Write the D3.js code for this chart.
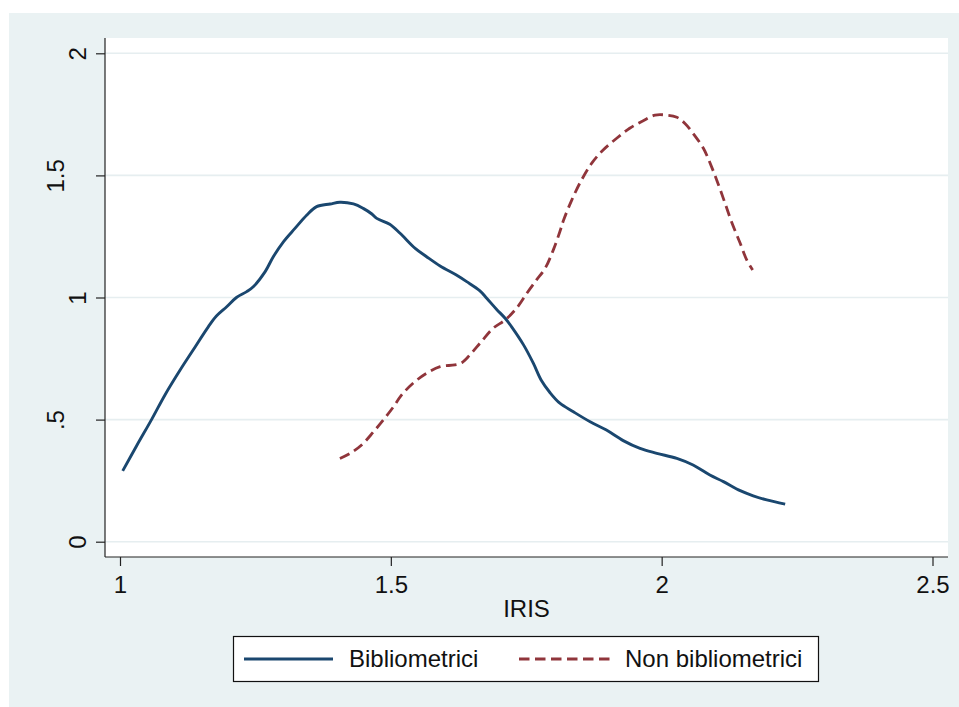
<!DOCTYPE html>
<html>
<head>
<meta charset="utf-8">
<script src="https://cdn.jsdelivr.net/npm/d3@7/dist/d3.min.js"></script>
<style>
  html, body { margin: 0; padding: 0; background: #ffffff; }
  svg { display: block; font-family: "Liberation Sans", Arial, sans-serif; }
</style>
</head>
<body>
<svg id="chart" width="959" height="707"></svg>
<script>
// Kernel density estimates of IRIS, by group
const seriesNames = ["Bibliometrici", "Non bibliometrici"];

const biblioX = [1.005, 1.031, 1.059, 1.083, 1.111, 1.135, 1.163, 1.178, 1.197, 1.215,
  1.234, 1.246, 1.268, 1.283, 1.302, 1.323, 1.345, 1.363, 1.388, 1.406,
  1.431, 1.449, 1.465, 1.474, 1.498, 1.517, 1.545, 1.566, 1.591, 1.621,
  1.640, 1.664, 1.677, 1.695, 1.711, 1.723, 1.745, 1.763, 1.778, 1.794,
  1.812, 1.837, 1.868, 1.898, 1.929, 1.960, 1.991, 2.028, 2.058, 2.089,
  2.114, 2.145, 2.169, 2.194, 2.228];
const biblioY = [0.290, 0.394, 0.503, 0.601, 0.703, 0.785, 0.880, 0.924, 0.962, 1.000,
  1.024, 1.044, 1.106, 1.167, 1.229, 1.283, 1.338, 1.372, 1.383, 1.390,
  1.383, 1.365, 1.342, 1.324, 1.300, 1.263, 1.201, 1.167, 1.129, 1.092,
  1.065, 1.028, 0.997, 0.952, 0.915, 0.880, 0.806, 0.731, 0.660, 0.610,
  0.567, 0.532, 0.491, 0.457, 0.414, 0.382, 0.362, 0.341, 0.314, 0.273,
  0.246, 0.209, 0.188, 0.171, 0.154];

const nonBiblioX = [1.406, 1.425, 1.446, 1.468, 1.486, 1.505, 1.520, 1.541, 1.566, 1.591,
  1.618, 1.631, 1.646, 1.667, 1.689, 1.711, 1.732, 1.751, 1.769, 1.785,
  1.800, 1.812, 1.819, 1.834, 1.852, 1.871, 1.892, 1.917, 1.941, 1.966,
  1.988, 2.009, 2.028, 2.043, 2.058, 2.077, 2.092, 2.105, 2.117, 2.130,
  2.145, 2.157, 2.168];
const nonBiblioY = [0.341, 0.362, 0.396, 0.450, 0.498, 0.553, 0.601, 0.649, 0.690, 0.717,
  0.724, 0.733, 0.765, 0.819, 0.874, 0.908, 0.956, 1.017, 1.072, 1.120,
  1.195, 1.269, 1.317, 1.399, 1.481, 1.550, 1.604, 1.652, 1.693, 1.724,
  1.747, 1.747, 1.738, 1.713, 1.672, 1.611, 1.536, 1.461, 1.386, 1.304,
  1.222, 1.154, 1.113];

const xTicks = [1, 1.5, 2, 2.5];
const xTickLabels = ["1", "1.5", "2", "2.5"];
const yTicks = [0, 0.5, 1, 1.5, 2];
const yTickLabels = ["0", ".5", "1", "1.5", "2"];
const xTitle = "IRIS";

const colors = { bg: "#eaf2f3", grid: "#e6eef0", blue: "#1a476f", red: "#90353b", axis: "#222" };

const svg = d3.select("#chart");

// graph region
svg.append("rect").attr("x", 9).attr("y", 13).attr("width", 950).attr("height", 694)
  .attr("fill", colors.bg);

// plot region
const plot = { left: 105, right: 948, top: 38, bottom: 557 };
svg.append("rect").attr("x", plot.left).attr("y", plot.top)
  .attr("width", plot.right - plot.left).attr("height", plot.bottom - plot.top)
  .attr("fill", "#ffffff");

const x = d3.scaleLinear().domain([1, 2.5]).range([120, 932.5]);
const y = d3.scaleLinear().domain([0, 2]).range([541.7, 53.3]);

// horizontal gridlines
svg.append("g").selectAll("line").data(yTicks).join("line")
  .attr("x1", plot.left).attr("x2", plot.right)
  .attr("y1", d => y(d)).attr("y2", d => y(d))
  .attr("stroke", colors.grid).attr("stroke-width", 1.6);

// curves
const line = d3.line().x(d => x(d[0])).y(d => y(d[1])).curve(d3.curveCatmullRom.alpha(0.5));
const biblio = biblioX.map((v, i) => [v, biblioY[i]]);
const nonBiblio = nonBiblioX.map((v, i) => [v, nonBiblioY[i]]);

svg.append("path").datum(biblio).attr("d", line)
  .attr("fill", "none").attr("stroke", colors.blue).attr("stroke-width", 2.9)
  .attr("stroke-linejoin", "round");
svg.append("path").datum(nonBiblio).attr("d", line)
  .attr("fill", "none").attr("stroke", colors.red).attr("stroke-width", 2.8)
  .attr("stroke-dasharray", "10.5,5.5");

// y axis
const yAxis = svg.append("g").attr("transform", `translate(${plot.left},0)`)
  .call(d3.axisLeft(y).tickValues(yTicks).tickFormat((d, i) => yTickLabels[i])
    .tickSize(9).tickSizeOuter(0));
yAxis.select(".domain").attr("d", `M0,${plot.top}V${plot.bottom}`).attr("stroke", colors.axis);
yAxis.selectAll(".tick line").attr("stroke", colors.axis);
yAxis.selectAll(".tick text")
  .attr("x", 0).attr("dy", "0.36em")
  .attr("text-anchor", "middle")
  .attr("transform", function () {
    const t = d3.select(this).text();
    return `translate(${t.length > 1 ? -50 : -28},0) rotate(-90)`;
  })
  .attr("font-size", 24).attr("fill", "#111");

// x axis
const xAxis = svg.append("g").attr("transform", `translate(0,${plot.bottom})`)
  .call(d3.axisBottom(x).tickValues(xTicks).tickFormat((d, i) => xTickLabels[i])
    .tickSize(9).tickSizeOuter(0));
xAxis.select(".domain").attr("d", `M${plot.left},0H${plot.right}`).attr("stroke", colors.axis);
xAxis.selectAll(".tick line").attr("stroke", colors.axis);
xAxis.selectAll(".tick text").attr("y", 36).attr("dy", 0)
  .attr("font-size", 24).attr("fill", "#111");
svg.selectAll(".domain, .tick line").attr("stroke-width", 1.2);

// x title
svg.append("text").attr("x", (plot.left + plot.right) / 2).attr("y", 617)
  .attr("text-anchor", "middle").attr("font-size", 24).attr("fill", "#111").text(xTitle);

// legend
const legend = svg.append("g");
legend.append("rect").attr("x", 233.5).attr("y", 636.5).attr("width", 585).attr("height", 45)
  .attr("fill", "#ffffff").attr("stroke", "#111").attr("stroke-width", 1.2);
const keys = [
  { name: seriesNames[0], x0: 244, x1: 333, tx: 349, color: colors.blue, dash: null },
  { name: seriesNames[1], x0: 519, x1: 610, tx: 625, color: colors.red, dash: "10.5,5.5" }
];
keys.forEach(k => {
  legend.append("line").attr("x1", k.x0).attr("x2", k.x1).attr("y1", 659).attr("y2", 659)
    .attr("stroke", k.color).attr("stroke-width", 2.8)
    .attr("stroke-dasharray", k.dash);
  legend.append("text").attr("x", k.tx).attr("y", 667).attr("font-size", 24)
    .attr("fill", "#111").text(k.name);
});
</script>
</body>
</html>
